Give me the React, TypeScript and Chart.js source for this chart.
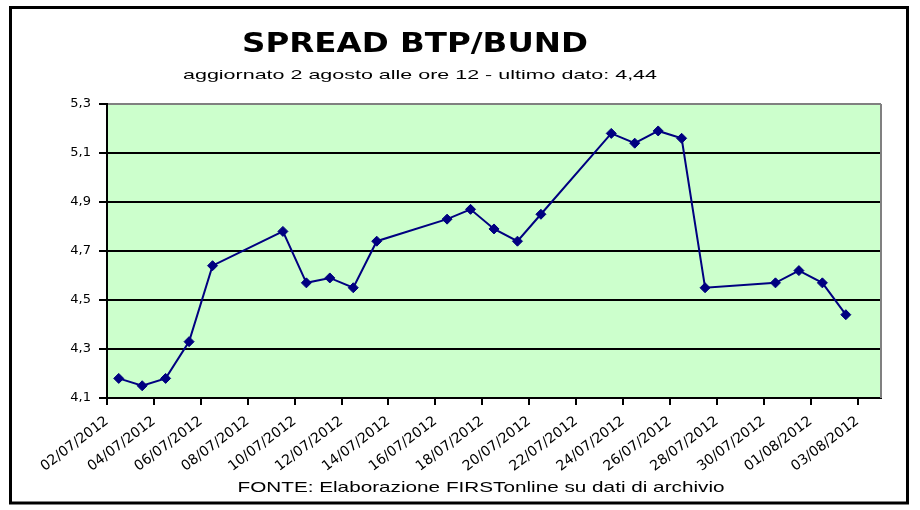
import React, { useEffect, useRef } from "react";
import { Chart, registerables } from "chart.js";

Chart.register(...registerables);

// ---- data ----
const TITLE = "SPREAD BTP/BUND";
const SUBTITLE = "aggiornato 2 agosto alle ore 12 - ultimo dato: 4,44";
const SOURCE = "FONTE: Elaborazione FIRSTonline su dati di archivio";

const START_DATE = "02/07/2012";
const END_DATE = "03/08/2012";

const dates = [
  "02/07/2012", "03/07/2012", "04/07/2012", "05/07/2012", "06/07/2012",
  "09/07/2012", "10/07/2012", "11/07/2012", "12/07/2012", "13/07/2012",
  "16/07/2012", "17/07/2012", "18/07/2012", "19/07/2012", "20/07/2012",
  "23/07/2012", "24/07/2012", "25/07/2012", "26/07/2012", "27/07/2012",
  "30/07/2012", "31/07/2012", "01/08/2012", "02/08/2012",
];

const spread = [
  4.18, 4.15, 4.18, 4.33, 4.64,
  4.78, 4.57, 4.59, 4.55, 4.74,
  4.83, 4.87, 4.79, 4.74, 4.85,
  5.18, 5.14, 5.19, 5.16, 4.55,
  4.57, 4.62, 4.57, 4.44,
];

const xTickLabels = [
  "02/07/2012", "04/07/2012", "06/07/2012", "08/07/2012", "10/07/2012",
  "12/07/2012", "14/07/2012", "16/07/2012", "18/07/2012", "20/07/2012",
  "22/07/2012", "24/07/2012", "26/07/2012", "28/07/2012", "30/07/2012",
  "01/08/2012", "03/08/2012",
];

const Y_MIN = 4.1;
const Y_MAX = 5.3;
const Y_STEP = 0.2;

// ---- helpers ----
function toUTC(s: string): number {
  const [d, m, y] = s.split("/").map(Number);
  return Date.UTC(y, m - 1, d);
}
function dayIndex(s: string): number {
  return Math.round((toUTC(s) - toUTC(START_DATE)) / 86400000);
}

function fitText(
  ctx: CanvasRenderingContext2D,
  text: string,
  font: string,
  cx: number,
  baseline: number,
  width: number
) {
  ctx.save();
  ctx.font = font;
  const w = ctx.measureText(text).width;
  ctx.translate(cx, baseline);
  ctx.scale(width / w, 1);
  ctx.textAlign = "center";
  ctx.textBaseline = "alphabetic";
  ctx.fillStyle = "#000";
  ctx.fillText(text, 0, 0);
  ctx.restore();
}

const framePlugin = {
  id: "frame",
  beforeDraw(chart: any) {
    const { ctx, chartArea } = chart;
    ctx.save();
    ctx.fillStyle = "#fff";
    ctx.fillRect(0, 0, chart.width, chart.height);
    // outer border
    ctx.strokeStyle = "#000";
    ctx.lineWidth = 3;
    ctx.strokeRect(10.5, 7.5, 897, 495.5);
    // plot background
    ctx.fillStyle = "#CCFFCC";
    ctx.fillRect(
      chartArea.left,
      chartArea.top,
      chartArea.right - chartArea.left,
      chartArea.bottom - chartArea.top
    );
    ctx.restore();
    fitText(ctx, TITLE, "900 26px 'DejaVu Sans'", 415, 52, 346);
    fitText(ctx, SUBTITLE, "13px 'Liberation Sans'", 420, 79, 474);
    fitText(ctx, SOURCE, "15px 'Liberation Sans'", 481, 492, 487);
  },
  afterDraw(chart: any) {
    const { ctx, chartArea } = chart;
    ctx.save();
    ctx.strokeStyle = "#808080";
    ctx.lineWidth = 2;
    ctx.beginPath();
    ctx.moveTo(chartArea.right, chartArea.top);
    ctx.lineTo(chartArea.right, chartArea.bottom);
    ctx.stroke();
    ctx.restore();
  },
};

export default function App() {
  const canvasRef = useRef<HTMLCanvasElement | null>(null);

  useEffect(() => {
    if (!canvasRef.current) return;
    const points = dates.map((d, i) => ({ x: dayIndex(d) + 0.5, y: spread[i] }));
    const xMax = dayIndex(END_DATE) + 1;

    const chart = new Chart(canvasRef.current, {
      type: "line",
      data: {
        datasets: [
          {
            data: points,
            borderColor: "#000080",
            borderWidth: 2,
            backgroundColor: "#000080",
            pointStyle: "rectRot",
            pointRadius: 5,
            pointBackgroundColor: "#000080",
            pointBorderColor: "#000080",
            pointBorderWidth: 1,
            tension: 0,
            fill: false,
            clip: false as any,
          },
        ],
      },
      plugins: [framePlugin],
      options: {
        animation: false,
        responsive: false,
        devicePixelRatio: 1,
        layout: { padding: { left: 20, top: 104, right: 39, bottom: 20 } },
        plugins: {
          legend: { display: false },
          tooltip: { enabled: false },
          title: { display: false },
        },
        scales: {
          x: {
            type: "linear",
            min: 0,
            max: xMax,
            afterFit: (s: any) => {
              s.height = 92;
            },
            ticks: {
              stepSize: 2,
              includeBounds: false,
              autoSkip: false,
              minRotation: 37,
              maxRotation: 37,
              padding: 8,
              color: "#000",
              font: { family: "'DejaVu Sans'", size: 14 },
              callback: (v: any) => {
                const idx = Math.round(Number(v) / 2);
                return xTickLabels[idx] ?? "";
              },
            },
            grid: {
              drawOnChartArea: false,
              drawTicks: true,
              tickLength: 7,
              tickColor: "#000",
              lineWidth: 2,
            },
            border: { display: true, color: "#000", width: 2 },
          },
          y: {
            type: "linear",
            min: Y_MIN,
            max: Y_MAX,
            afterFit: (s: any) => {
              s.width = 87;
            },
            ticks: {
              stepSize: Y_STEP,
              padding: 8,
              color: "#000",
              font: { family: "'DejaVu Sans'", size: 13 },
              callback: (v: any) => Number(v).toFixed(1).replace(".", ","),
            },
            grid: {
              color: (c: any) =>
                c.tick && Math.abs(c.tick.value - Y_MAX) < 1e-6 ? "#808080" : "#000",
              lineWidth: 2,
              tickLength: 8,
              tickColor: "#000",
            },
            border: { display: true, color: "#000", width: 2 },
          },
        },
      },
    });
    return () => chart.destroy();
  }, []);

  return (
    <div style={{ position: "absolute", left: 0, top: 0, width: 920, height: 510 }}>
      <canvas
        ref={canvasRef}
        width={920}
        height={510}
        style={{ display: "block", width: 920, height: 510 }}
      />
    </div>
  );
}
